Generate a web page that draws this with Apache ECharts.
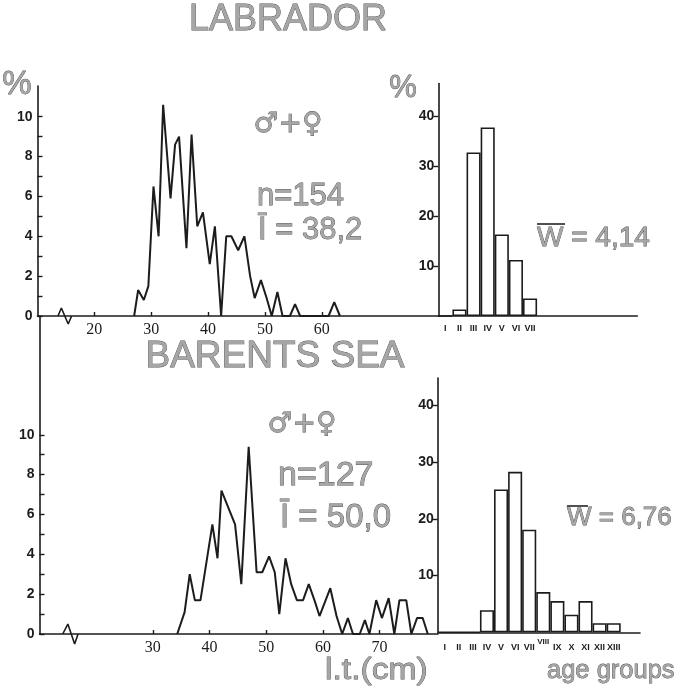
<!DOCTYPE html>
<html>
<head>
<meta charset="utf-8">
<script src="https://cdn.jsdelivr.net/npm/echarts@6/dist/echarts.min.js"></script>
<style>
html,body{margin:0;padding:0;background:#fff;}
#chart{width:678px;height:693px;}
</style>
</head>
<body>
<div id="chart"></div>
<script>
// ---- DATA ----
// Labrador: total length (cm) vs %
const lengthsLab = [27.0, 27.7, 28.7, 29.5, 30.4, 31.3, 32.1, 33.4, 34.2, 34.9, 36.2, 37.1, 38.1, 39.1, 40.3, 41.2, 42.3, 43.2, 44.1, 45.3, 46.4, 47.4, 48.2, 49.3, 50.3, 51.2, 52.2, 53.1, 54.4, 55.3, 56.2, 61.2, 62.2, 63.2];
const pctLab     = [0, 1.3, 0.8, 1.5, 6.5, 4.0, 10.6, 5.9, 8.6, 9.0, 3.4, 9.1, 4.5, 5.2, 2.6, 4.5, 0, 4.0, 4.0, 3.3, 4.0, 2.0, 0.9, 1.8, 0.9, 0, 1.2, 0, 0, 0.6, 0, 0, 0.7, 0];
// Barents Sea: total length (cm) vs %
const lengthsBar = [34.3, 35.6, 36.5, 37.4, 38.4, 40.5, 41.4, 42.1, 44.5, 45.6, 46.9, 48.3, 49.3, 50.5, 51.5, 52.3, 53.4, 54.4, 55.4, 56.5, 57.5, 58.5, 59.4, 61.3, 62.4, 63.4, 64.4, 65.3, 66.5, 67.4, 68.2, 69.4, 70.4, 71.6, 72.6, 73.5, 74.7, 75.6, 76.6, 77.6, 78.5];
const pctBar     = [0, 1.1, 3.0, 1.7, 1.7, 5.5, 3.8, 7.2, 5.5, 2.5, 9.4, 3.1, 3.1, 3.9, 3.1, 1.0, 3.8, 2.5, 1.7, 1.7, 2.5, 1.7, 0.9, 2.3, 0.9, 0, 0.8, 0, 0, 0.7, 0, 1.7, 0.8, 1.8, 0, 1.7, 1.7, 0, 0.8, 0.8, 0];
// Age groups
const agesLab    = ['I', 'II', 'III', 'IV', 'V', 'VI', 'VII'];
const pctAgeLab  = [0, 1.3, 32.7, 37.7, 16.3, 11.2, 3.5];
const agesBar    = ['I', 'II', 'III', 'IV', 'V', 'VI', 'VII', 'VIII', 'IX', 'X', 'XI', 'XII', 'XIII'];
const pctAgeBar  = [0, 0, 0, 3.9, 25.2, 28.3, 18.1, 7.1, 5.5, 3.1, 5.5, 1.6, 1.6];
// Axis-break zigzags (axis units)
const breakLab   = [[13.6, 0], [14.2, 0.4], [15.4, -0.4], [16.0, 0]];
const breakBar   = [[14.1, 0], [15.0, 0.5], [16.2, -0.5], [16.8, 0]];
// Tick values
const lenLabelsLab = [20, 30, 40, 50, 60];
const lenLabelsBar = [30, 40, 50, 60, 70];
const pctTicks     = [0, 1, 2, 3, 4, 5, 6, 7, 8, 9, 10];
const pctLabels    = [0, 2, 4, 6, 8, 10];
const histTicks    = [10, 20, 30, 40];

// ---- CHART ----
const ink = '#1c1c1c';
const grayFill = '#a6a6a6', grayStroke = '#505050';
const chart = echarts.init(document.getElementById('chart'), null, {renderer: 'canvas'});

function leftY(gridIndex, max) {
  return {
    type: 'value', gridIndex, min: 0, max,
    splitLine: {show: false},
    axisLine: {show: true, lineStyle: {color: ink, width: 1.6}},
    axisTick: {show: true, inside: true, length: 5, customValues: pctTicks, lineStyle: {color: ink, width: 1.4}},
    axisLabel: {customValues: pctLabels, color: ink, fontFamily: 'Liberation Sans', fontWeight: 'bold', fontSize: 14, margin: 5}
  };
}
function leftX(gridIndex, max, labels) {
  return {
    type: 'value', gridIndex, min: 10, max,
    splitLine: {show: false},
    axisLine: {show: true, onZero: true, lineStyle: {color: ink, width: 1.6}},
    axisTick: {show: true, inside: true, length: 4, customValues: labels, lineStyle: {color: ink, width: 1.4}},
    axisLabel: {customValues: labels, color: ink, fontFamily: 'Liberation Serif', fontSize: 16, margin: 6}
  };
}
function histY(gridIndex, max) {
  return {
    type: 'value', gridIndex, min: 0, max,
    splitLine: {show: false},
    axisLine: {show: true, lineStyle: {color: ink, width: 1.6}},
    axisTick: {show: true, inside: false, length: 5, customValues: histTicks, lineStyle: {color: ink, width: 1.4}},
    axisLabel: {customValues: histTicks, color: ink, fontFamily: 'Liberation Sans', fontWeight: 'bold', fontSize: 14, margin: 4}
  };
}
function histX(gridIndex, max, cats, margin, hide) {
  return {
    type: 'value', gridIndex, min: 0, max, position: 'bottom',
    splitLine: {show: false},
    axisLine: {show: true, lineStyle: {color: ink, width: 1.6}},
    axisTick: {show: false},
    axisLabel: {
      customValues: cats.map((_, i) => i + 0.5),
      formatter: v => { const c = cats[Math.floor(v)]; return (hide && c === hide) ? '' : c; },
      color: ink, fontFamily: 'Liberation Sans', fontWeight: 'bold', fontSize: 9, margin
    }
  };
}
function gtext(text, x, y, size, opts) {
  opts = opts || {};
  return {
    type: 'text', x, y, scaleX: opts.sx || 1, scaleY: opts.sy || 1, z: 10,
    style: {
      text, x: 0, y: 0, fontSize: size, fontFamily: opts.family || 'Liberation Sans',
      fontWeight: opts.weight || 'normal',
      fill: opts.fill || grayFill, stroke: opts.stroke === undefined ? grayStroke : opts.stroke,
      lineWidth: opts.lw === undefined ? 0.8 : opts.lw,
      align: opts.align || 'left', verticalAlign: 'middle'
    }
  };
}
function gline(x1, y1, x2, y2, w) {
  return {type: 'line', z: 10, shape: {x1, y1, x2, y2}, style: {stroke: grayStroke, lineWidth: w || 2}};
}

const option = {
  backgroundColor: '#fff',
  animation: false,
  grid: [
    {left: 37.5, top: 86, width: 400.8, height: 230, outerBoundsMode: 'none', containLabel: false},
    {left: 438.3, top: 83.5, width: 199, height: 232.5, outerBoundsMode: 'none', containLabel: false},
    {left: 39.5, top: 316, width: 398.5, height: 318, outerBoundsMode: 'none', containLabel: false},
    {left: 437.7, top: 378, width: 202.3, height: 254.3, outerBoundsMode: 'none', containLabel: false}
  ],
  xAxis: [
    leftX(0, 80.5, lenLabelsLab),
    histX(1, 14.1, agesLab, 8),
    leftX(2, 80.3, lenLabelsBar),
    histX(3, 14.37, agesBar, 11, 'VIII'),
    Object.assign(histX(3, 14.37, agesBar, 5), {
      axisLine: {show: false},
      axisLabel: {customValues: [agesBar.indexOf('VIII') + 0.5], formatter: () => 'VIII', color: ink,
        fontFamily: 'Liberation Sans', fontWeight: 'bold', fontSize: 8, margin: 5}
    })
  ],
  yAxis: [
    leftY(0, 11.54),
    histY(1, 46.5),
    leftY(2, 15.96),
    histY(3, 44.85)
  ],
  series: [
    {type: 'line', xAxisIndex: 0, yAxisIndex: 0, symbol: 'none', data: lengthsLab.map((x, i) => [x, pctLab[i]]),
      lineStyle: {color: ink, width: 2}, z: 5},
    {type: 'line', xAxisIndex: 0, yAxisIndex: 0, symbol: 'none', clip: false, data: breakLab,
      lineStyle: {color: ink, width: 1.6}, z: 5},
    {type: 'bar', xAxisIndex: 1, yAxisIndex: 1, barWidth: 14.1, data: agesLab.map((c, i) => [i + 0.5, pctAgeLab[i]]),
      itemStyle: {color: '#fff', borderColor: ink, borderWidth: 1.6}},
    {type: 'line', xAxisIndex: 2, yAxisIndex: 2, symbol: 'none', data: lengthsBar.map((x, i) => [x, pctBar[i]]),
      lineStyle: {color: ink, width: 2}, z: 5},
    {type: 'line', xAxisIndex: 2, yAxisIndex: 2, symbol: 'none', clip: false, data: breakBar,
      lineStyle: {color: ink, width: 1.6}, z: 5},
    {type: 'bar', xAxisIndex: 3, yAxisIndex: 3, barWidth: 14.08, data: agesBar.map((c, i) => [i + 0.5, pctAgeBar[i]]),
      itemStyle: {color: '#fff', borderColor: ink, borderWidth: 1.6}}
  ],
  graphic: [
    gtext('LABRADOR', 288, 20, 36, {align: 'center'}),
    gtext('BARENTS SEA', 275, 357, 37, {align: 'center'}),
    gtext('%', 17, 85, 33, {align: 'center'}),
    gtext('%', 403, 88, 31, {align: 'center'}),
    gtext('\u2642+\u2640', 288, 125, 28, {align: 'center', family: 'DejaVu Sans'}),
    gtext('n=154', 257, 196, 31),
    gtext('\u012A = 38,2', 258, 230, 31),
    gtext('W = 4,14', 537, 238, 28),
    gline(537, 224, 565, 224),
    gtext('\u2642+\u2640', 302, 425, 28, {align: 'center', family: 'DejaVu Sans'}),
    gtext('n=127', 278, 476, 34),
    gtext('\u012A = 50,0', 280, 518, 33),
    gtext('W = 6,76', 567, 518, 26),
    gline(567, 506, 588, 506),
    gtext('l.t.(cm)', 325, 671, 30, {sx: 1.12}),
    gtext('age groups', 547, 671, 25.5)
  ]
};
chart.setOption(option);
</script>
</body>
</html>
